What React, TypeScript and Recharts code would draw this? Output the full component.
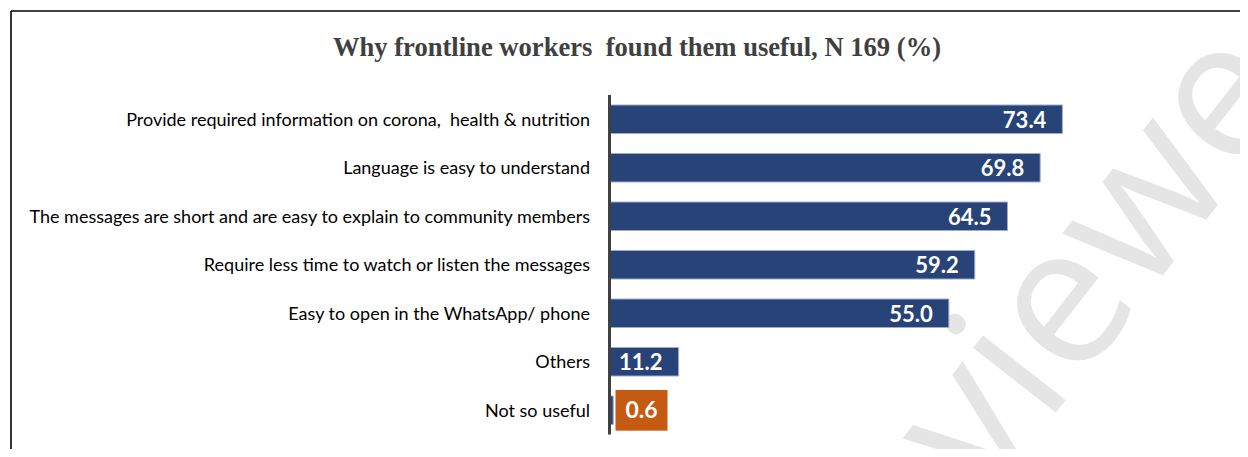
import React from 'react';
import { BarChart, Bar, XAxis, YAxis, LabelList } from 'recharts';

const categories: string[] = [
  'Provide required information on corona,  health & nutrition',
  'Language is easy to understand',
  'The messages are short and are easy to explain to community members',
  'Require less time to watch or listen the messages',
  'Easy to open in the WhatsApp/ phone',
  'Others',
  'Not so useful',
];
const values: number[] = [73.4, 69.8, 64.5, 59.2, 55.0, 11.2, 0.6];
const highlightIndex = 6;
const title = 'Why frontline workers  found them useful, N 169 (%)';
const watermark = 'Reviewed';

const data = categories.map((c, i) => ({ category: c, value: values[i] }));

const BAR = '#284378';
const ORANGE = '#C55A11';

const CategoryTick = (props: any) => {
  const { x, y, payload } = props;
  return (
    <text
      x={x}
      y={y}
      dy="0.35em"
      textAnchor="end"
      fontFamily="Lato"
      fontSize={18}
      fill="#000"
      style={{ whiteSpace: 'pre' }}
    >
      {payload.value}
    </text>
  );
};

const ValueLabel = (props: any) => {
  const { x, y, width, height, value, index } = props;
  const cy = Number(y) + Number(height) / 2;
  const txt = Number(value).toFixed(1);
  const isHi = index === highlightIndex || Number(value) === values[highlightIndex];
  if (isHi) {
    const rx = Number(x) + 6;
    return (
      <g>
        <rect x={rx} y={cy - 20.3} width={52} height={40.7} fill={ORANGE} />
        <text
          x={rx + 26}
          y={cy + 8}
          textAnchor="middle"
          fontFamily="Lato"
          fontWeight="bold"
          fontSize={23}
          fill="#fff"
        >
          {txt}
        </text>
      </g>
    );
  }
  return (
    <text
      x={Number(x) + Number(width) - 16}
      y={cy + 8.5}
      textAnchor="end"
      fontFamily="Lato"
      fontWeight="bold"
      fontSize={22}
      fill="#fff"
    >
      {txt}
    </text>
  );
};

export default function App() {
  return (
    <div style={{ position: 'relative', width: 1248, height: 457, margin: -8, background: '#fff', overflow: 'hidden' }}>
      <svg width={1248} height={457} style={{ position: 'absolute', left: 0, top: 0 }}>
        <text
          transform="translate(843,685) rotate(-52)"
          fontFamily="Open Sans"
          fontSize={196}
          fill="#E5E5E5"
        >
          {watermark}
        </text>
        <line x1={11} y1={11} x2={11} y2={457} stroke="#000" strokeWidth={1.6} />
        <line x1={11} y1={11} x2={1248} y2={11} stroke="#000" strokeWidth={1.6} />
        <text
          x={637}
          y={56}
          textAnchor="middle"
          fontFamily="Liberation Serif"
          fontWeight="bold"
          fontSize={26.6}
          fill="#404040"
          style={{ whiteSpace: 'pre' }}
        >
          {title}
        </text>
      </svg>
      <div style={{ position: 'absolute', left: 0, top: 0 }}>
        <BarChart
          width={1248}
          height={457}
          data={data}
          layout="vertical"
          margin={{ top: 95, right: 21.5, bottom: 22.5, left: 0 }}
        >
          <XAxis type="number" domain={[0, 100]} hide />
          <YAxis
            type="category"
            dataKey="category"
            width={609.5}
            axisLine={{ stroke: '#404040', strokeWidth: 3 }}
            tickLine={false}
            tickSize={0}
            tickMargin={19.5}
            interval={0}
            tick={<CategoryTick />}
          />
          <Bar
            dataKey="value"
            fill={BAR}
            stroke="#9DAACB"
            strokeWidth={1}
            barSize={28.5}
            isAnimationActive={false}
          >
            <LabelList dataKey="value" content={<ValueLabel />} />
          </Bar>
        </BarChart>
      </div>
    </div>
  );
}
